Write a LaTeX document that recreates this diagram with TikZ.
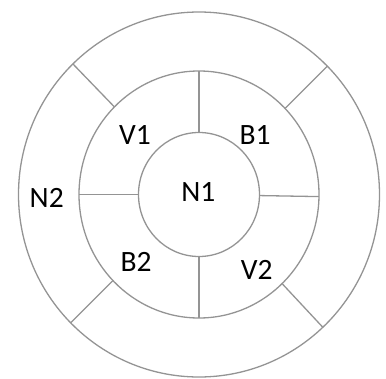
\documentclass[tikz,border=0pt]{standalone}
\usepackage{fontspec}
\setmainfont{Carlito}
\usetikzlibrary{shapes.geometric}
\begin{document}
\begin{tikzpicture}[x=1pt,y=-1pt,
  ring/.style={draw=black!42,line width=1.3pt,ellipse,inner sep=0pt,outer sep=0pt},
  spoke/.style={draw=black!42,line width=1.3pt},
  lab/.style={font=\fontsize{29.5}{34}\selectfont,text=black,inner sep=0pt}]
\useasboundingbox (0,0) rectangle (386,378);
\coordinate (c) at (199,194.5);
\node[ring,minimum width=361pt,minimum height=365pt] (outer) at (c) {};
\node[ring,minimum width=240pt,minimum height=247pt] (mid) at (c) {};
\node[ring,minimum width=121pt,minimum height=124pt] (inner) at (c) {};
% inner spokes
\draw[spoke] (inner.90) -- (mid.90);
\draw[spoke] (inner.-1) -- (mid.-1);
\draw[spoke] (inner.270.5) -- (mid.270.5);
\draw[spoke] (inner.180) -- (mid.180);
% outer spokes
\draw[spoke] (mid.134) -- (outer.134);
\draw[spoke] (mid.45) -- (outer.45);
\draw[spoke] (mid.225.5) -- (outer.225.5);
\draw[spoke] (mid.313) -- (outer.313);
% labels
\node[lab] (n1) at (198.3,191.7) {N1};
\node[lab] (n2) at (46.7,198.3) {N2};
\node[lab] (v1) at (135,135) {V1};
\node[lab] (b1) at (255,135) {B1};
\node[lab] (b2) at (136,262) {B2};
\node[lab] (v2) at (256.7,270) {V2};
\end{tikzpicture}
\end{document}
